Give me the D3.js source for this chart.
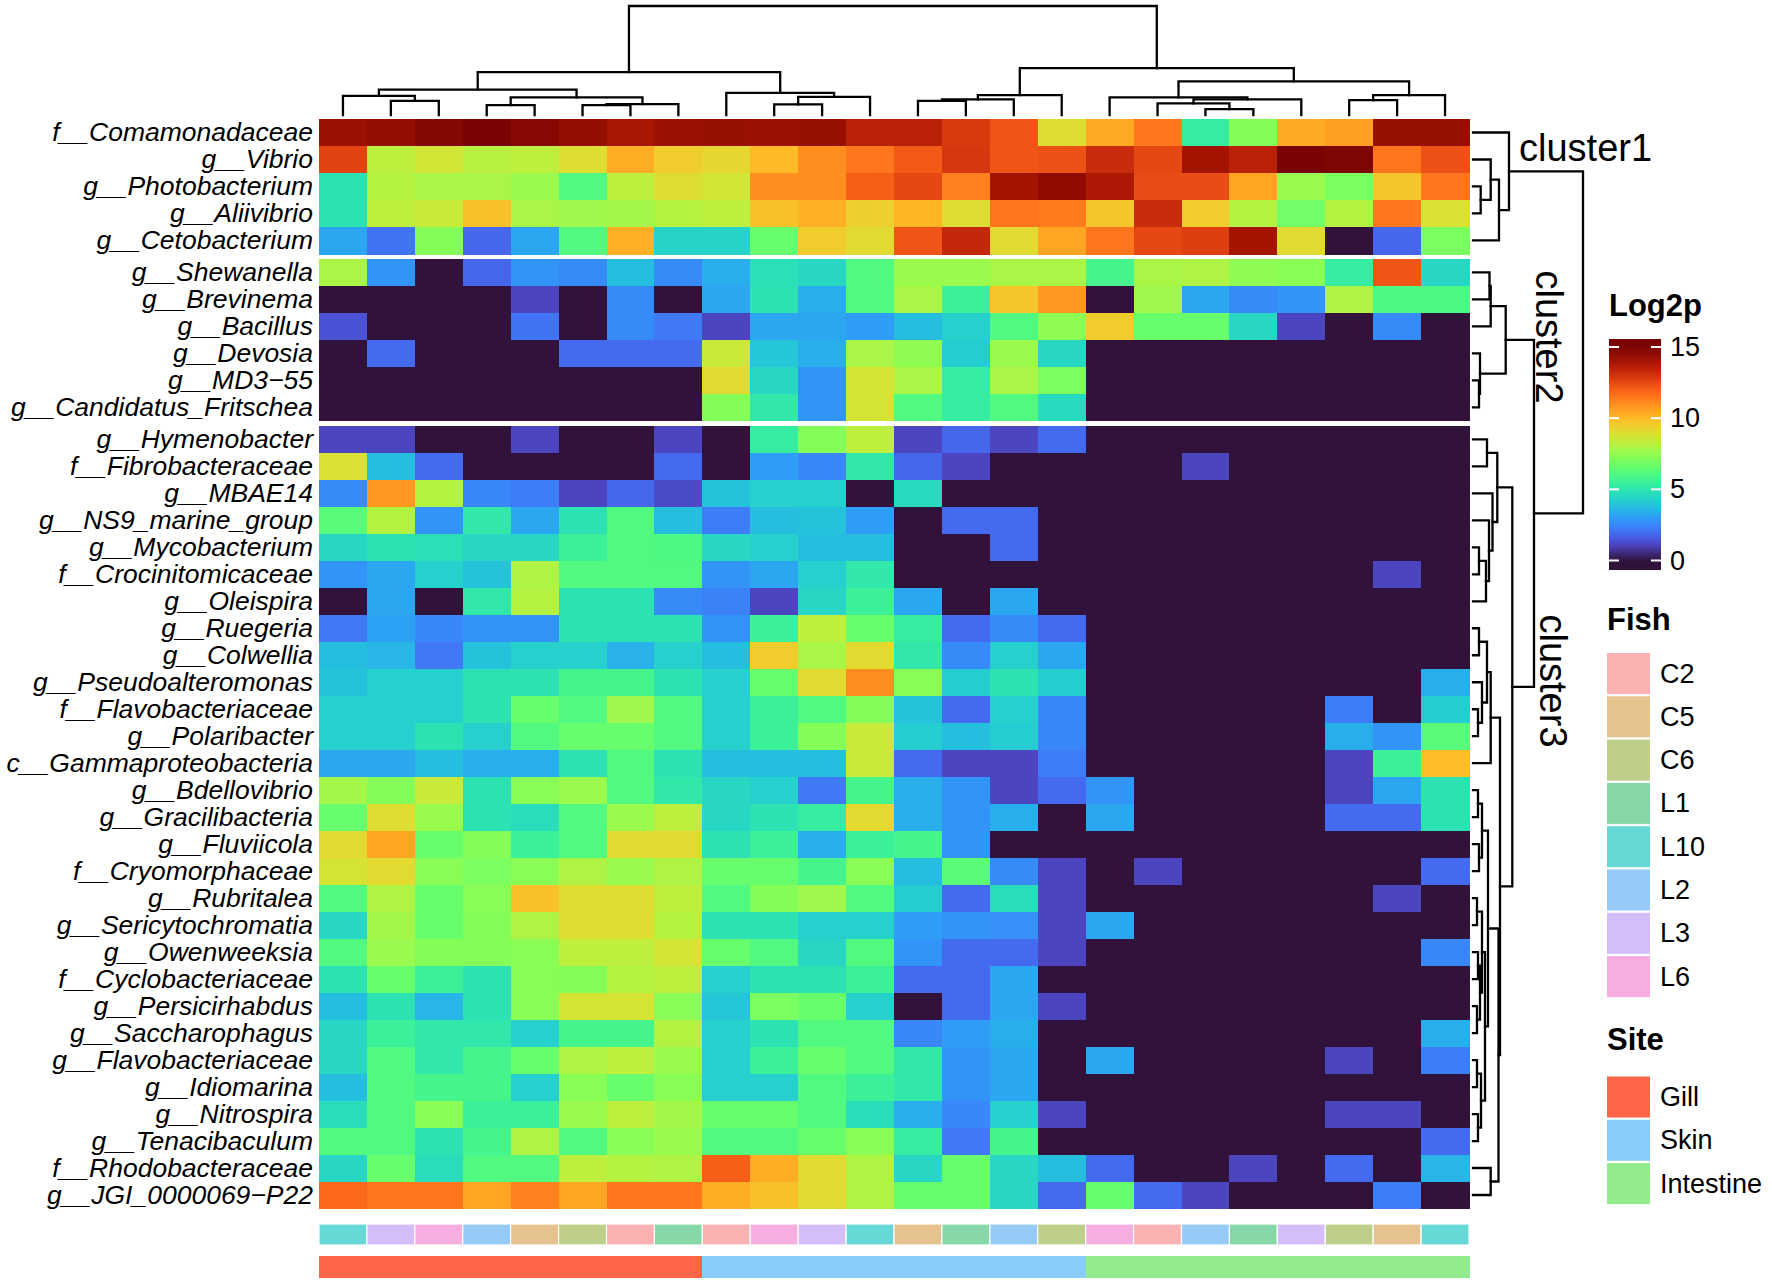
<!DOCTYPE html>
<html>
<head>
<meta charset="utf-8">
<script src="https://cdn.jsdelivr.net/npm/d3@7"></script>
<style>
  body { margin: 0; background: #fff; }
  svg { display: block; }
  text { font-family: "Liberation Sans", Arial, Helvetica, sans-serif; fill: #000; }
</style>
</head>
<body>
<script>
// ---- data ----
const rowNames = [
  "f__Comamonadaceae", "g__Vibrio", "g__Photobacterium", "g__Aliivibrio", "g__Cetobacterium",
  "g__Shewanella", "g__Brevinema", "g__Bacillus", "g__Devosia", "g__MD3\u221255", "g__Candidatus_Fritschea",
  "g__Hymenobacter", "f__Fibrobacteraceae", "g__MBAE14", "g__NS9_marine_group", "g__Mycobacterium",
  "f__Crocinitomicaceae", "g__Oleispira", "g__Ruegeria", "g__Colwellia", "g__Pseudoalteromonas",
  "f__Flavobacteriaceae", "g__Polaribacter", "c__Gammaproteobacteria", "g__Bdellovibrio",
  "g__Gracilibacteria", "g__Fluviicola", "f__Cryomorphaceae", "g__Rubritalea", "g__Sericytochromatia",
  "g__Owenweeksia", "f__Cyclobacteriaceae", "g__Persicirhabdus", "g__Saccharophagus",
  "g__Flavobacteriaceae", "g__Idiomarina", "g__Nitrospira", "g__Tenacibaculum",
  "f__Rhodobacteraceae", "g__JGI_0000069\u2212P22"
];
const rowSplit = [5, 6, 29];   // cluster1, cluster2, cluster3
const clusterNames = ["cluster1", "cluster2", "cluster3"];

const colFish = ["L10","L3","L6","L2","C5","C6","C2","L1","C2","L6","L3","L10",
                 "C5","L1","L2","C6","L6","C2","L2","L1","L3","C6","C5","L10"];
const colSite = ["Gill","Gill","Gill","Gill","Gill","Gill","Gill","Gill",
                 "Skin","Skin","Skin","Skin","Skin","Skin","Skin","Skin",
                 "Intestine","Intestine","Intestine","Intestine","Intestine","Intestine","Intestine","Intestine"];

const fishLevels = ["C2","C5","C6","L1","L10","L2","L3","L6"];
const fishColors = ["#f9b1b1","#e6c28e","#bdcf88","#86d8a8","#66d8d5","#95cbf6","#d4bdf8","#f6aee1"];
const siteLevels = ["Gill","Skin","Intestine"];
const siteColors = ["#fe6446","#88cdf9","#92ec8e"];

const legendBreaks = [0, 5, 10, 15];

// log2p values, one row per taxon, 24 samples (column order of the heatmap)
const log2p = [
  [14.2,14.4,14.8,15,14.7,14.4,13.9,14.2,14.3,14.2,14.3,13.5,13.5,12.8,12.2,9,10.4,11.5,5.3,7.2,10.4,10.6,14.3,14.3],
  [12.6,8.3,8.7,8.2,8.3,9.0,10.3,9.5,9.2,10,11,11.5,12.1,12.9,12.2,12.3,13.2,12.5,14,13.5,15,14.9,11.5,12.3],
  [4.9,8.1,7.9,7.9,7.6,6.1,8.3,9,8.7,11,11,12,12.5,11.3,14,14.5,13.8,12.4,12.4,10.5,7.6,7,9.7,11.5],
  [4.9,8.3,8.5,9.8,7.9,7.7,7.8,8.1,8.3,9.8,10.2,9.4,10.1,9,11.5,11.4,9.7,13.2,9.5,8.1,6.8,8.1,11.5,8.9],
  [3.2,2.1,7.2,1.8,3.2,6.1,10.2,4.4,4.4,6.6,9.5,9.1,12.2,13.3,9.1,10.5,11.5,12.5,12.7,14,9.1,0,1.8,7],
  [7.9,2.8,0,1.8,2.8,2.6,3.8,2.6,3.4,4.8,4.5,6.1,7.6,7.6,7.9,7.9,5.8,7.9,8,7.4,7.3,5.3,12.2,4.5],
  [0,0,0,0,1.1,0,2.6,0,3.2,4.9,3.4,6.1,7.9,5.5,9.7,10.8,0,7.7,3.2,2.6,2.8,8,6,6],
  [1.4,0,0,0,2.1,0,2.6,2.2,1.1,3.2,3.2,3,3.8,4.3,6.1,7.4,9.5,6.6,6.6,4.5,1.1,0,2.6,0],
  [0,1.9,0,0,0,1.9,1.9,1.9,8.5,4,3.4,7.9,7.4,4.2,7.6,4.5,0,0,0,0,0,0,0,0],
  [0,0,0,0,0,0,0,0,9.1,4.5,2.8,8.8,7.9,5.3,7.9,7,0,0,0,0,0,0,0,0],
  [0,0,0,0,0,0,0,0,7.2,5.1,2.8,8.8,6.1,5.3,6.1,4.6,0,0,0,0,0,0,0,0],
  [1.1,1.1,0,0,1.1,0,0,1.1,0,5.3,7.2,8.3,1.1,1.8,1.1,1.9,0,0,0,0,0,0,0,0],
  [8.9,3.8,1.9,0,0,0,0,1.9,0,3,2.5,5.1,1.8,1.1,0,0,0,0,1.1,0,0,0,0,0],
  [2.6,10.8,8.1,2.5,2.3,1.1,1.8,1.2,3.9,4.3,4.3,0,4.6,0,0,0,0,0,0,0,0,0,0,0],
  [6.3,8.1,2.8,5.1,3.2,4.9,6.1,3.8,2.3,3.8,3.9,3,0,1.9,1.9,0,0,0,0,0,0,0,0,0],
  [4.5,4.9,4.8,4.5,4.5,5.5,6.1,6,4.5,4.3,3.8,3.8,0,0,1.9,0,0,0,0,0,0,0,0,0],
  [2.8,3.2,4.3,3.9,8,6.1,6.1,6.1,2.8,3.2,4.3,5.1,0,0,0,0,0,0,0,0,0,0,1.1,0],
  [0,3.2,0,5.1,8.1,4.9,4.9,2.6,2.4,1.1,4.5,5.5,3.2,0,3.2,0,0,0,0,0,0,0,0,0],
  [2.2,3.1,2.5,2.8,2.8,4.9,4.9,4.9,2.8,5.5,8.3,6.6,5.3,1.9,2.6,1.9,0,0,0,0,0,0,0,0],
  [3.8,3.6,2.2,3.9,4.3,4.3,3.5,4.3,3.8,9.5,7.9,9.1,5.1,2.6,4.3,3.2,0,0,0,0,0,0,0,0],
  [3.9,4.3,4.3,4.9,4.9,5.8,5.8,4.9,4.3,6.6,9.1,11,7.3,4.2,4.9,4.2,0,0,0,0,0,0,0,3.4],
  [4.3,4.3,4.3,4.9,6.6,6.1,7.7,6.1,4.3,5.5,6.1,7.2,3.9,1.9,4.3,2.5,0,0,0,0,0,2.3,0,4.2],
  [4.3,4.3,4.9,4.3,6.1,6.6,6.6,6.1,4.3,5.5,7.2,8.5,4.2,3.8,4.2,2.5,0,0,0,0,0,3.4,2.8,6.3],
  [3.2,3.2,3.8,3.4,3.4,4.9,6.1,4.9,3.8,3.8,3.8,8.5,1.9,1.1,1.1,2.3,0,0,0,0,0,1.1,5.5,9.9],
  [7.8,7.2,8.5,4.9,7.3,7.6,6.1,5.1,4.5,4.3,2.2,5.8,3.4,2.8,1.1,1.9,2.8,0,0,0,0,1.1,3.2,4.9],
  [6.6,9,7.6,4.9,4.7,6.1,7.6,8.3,4.5,4.9,5.3,9.1,3.4,2.8,3.4,0,3.2,0,0,0,0,1.9,1.9,4.9],
  [9.1,10.5,6.6,7.2,5.5,6.1,9.1,9.1,4.9,5.5,3.4,5.5,5.8,2.8,0,0,0,0,0,0,0,0,0,0],
  [8.8,9.1,7.3,7,7.3,8,7.6,8,6.6,6.6,5.8,7.3,3.8,6.3,2.6,1.1,0,1.1,0,0,0,0,0,1.9],
  [6.1,8,6.6,7.3,9.8,9,9,8.3,6.1,7.2,7.7,6.1,4.2,1.9,4.7,1.1,0,0,0,0,0,0,1.1,0],
  [4.5,7.8,6.6,7.2,8,9,9,8.1,4.9,4.9,4.3,4.3,3,2.8,2.7,1.1,3.2,0,0,0,0,0,0,0],
  [6.1,7.6,7.2,7.2,7.3,8.3,8.3,8.8,6.6,6.1,4.5,6.1,2.8,1.9,1.9,1.1,0,0,0,0,0,0,0,2.5],
  [4.9,6.6,5.5,4.9,7.3,7.2,8.1,8.3,4.3,4.9,4.9,5.5,1.9,1.9,3.2,0,0,0,0,0,0,0,0,0],
  [3.8,4.9,3.6,4.9,7.3,8.8,8.8,7.3,4,7,6.6,4.3,0,1.9,3.2,1.1,0,0,0,0,0,0,0,0],
  [4.5,5.5,5.1,5.1,4.3,5.8,5.8,8.1,4.3,4.9,6.1,6.1,2.5,3,3.4,0,0,0,0,0,0,0,0,3.4],
  [4.5,6.1,5.1,5.8,6.6,8,8.3,7.6,4.3,5.5,6.6,6.1,5.1,2.8,3.2,0,3.2,0,0,0,0,1.1,0,2.3],
  [3.8,6.1,5.8,5.8,4.3,7.3,6.6,7.3,4.3,4.3,6.1,5.5,5.1,2.8,3.2,0,0,0,0,0,0,0,0,0],
  [4.7,6.1,7.3,5.5,5.5,7.6,8.3,7.8,6.6,6.6,6.1,4.7,3.4,2.5,4.3,1.1,0,0,0,0,0,1.1,1.1,0],
  [6.1,6.1,4.9,5.8,8,6.1,7.3,7.6,6.1,6.1,6.6,7.3,5.3,2.2,5.8,0,0,0,0,0,0,0,0,1.9],
  [4.5,6.6,4.7,6.1,6.1,8.3,8.1,8,12,10.3,9.1,8,4.5,6.6,4.5,3.8,1.9,0,0,1.1,0,1.9,0,3.6],
  [11.8,11.5,11.5,10.5,11.3,10.5,11.5,11.5,10.3,9.8,9.1,8,6.6,6.6,4.5,1.9,6.6,1.9,1.1,0,0,0,2.3,0]
];

// hclust-style merges: negative = leaf (1-based), positive = earlier merge (1-based), then height
const colMerge = [
  [-2,-3,14.3], [-1,1,19.3], [-4,-5,10], [-6,-7,10], [4,-8,11], [3,5,17.7], [2,6,25.7],
  [-10,-11,10.7], [8,-12,18.3], [-9,9,22.3], [7,10,43.3],
  [-13,-14,14.3], [12,-15,15.7], [13,-16,20], [-19,-20,6], [-18,15,11.7], [16,-21,15.7],
  [-17,17,17.7], [-22,-23,15], [19,-24,20], [18,20,34], [14,21,47.3], [11,22,110]
];
const rowMerge = [
  [-3,-4,7.7], [-2,1,17.7], [2,-5,26], [-1,3,36],
  [-6,-7,16.5], [5,-8,17.7], [-10,-11,6], [-9,7,7], [6,8,32.7],
  [-12,-13,14], [-16,-17,6], [11,-18,13], [-15,12,16], [-14,13,19.5], [10,14,24.3],
  [-19,-20,6], [-22,-23,5], [-21,17,9], [16,18,14], [19,-24,17.7],
  [-25,-26,5], [-27,-28,6], [21,22,9], [-29,-30,4], [-31,-32,5], [-33,-34,4], [25,26,7],
  [24,27,9], [-35,-36,4], [-37,-38,5], [29,30,8], [28,31,12], [23,32,15],
  [-39,-40,17.7], [33,34,25.5], [20,35,27], [15,36,39.3], [9,37,61], [4,38,110]
];

// ---- layout ----
const W = 1772, H = 1281;
const heat = { left: 319, right: 1469, top: 119, bottom: 1208.5 };
const sliceGap = 5;
const rowH = (heat.bottom - heat.top - sliceGap * (rowSplit.length - 1)) / rowNames.length;

const svg = d3.select("body").append("svg").attr("width", W).attr("height", H);

const x = d3.scaleBand().domain(d3.range(colFish.length)).range([heat.left, heat.right]);

// one band scale per row slice
const slices = [];
let start = 0;
rowSplit.forEach((n, k) => {
  const y0 = heat.top + start * rowH + k * sliceGap;
  slices.push({ start, n, scale: d3.scaleBand().domain(d3.range(start, start + n)).range([y0, y0 + n * rowH]) });
  start += n;
});
const sliceOf = r => slices.find(s => r >= s.start && r < s.start + s.n);
const yRow = r => sliceOf(r).scale(r);

// turbo colour ramp, with the original turbo end colours
const tScale = d3.scaleLinear().domain([0, 15]).range([0, 1]).clamp(true);
const lowEnd = d3.interpolateRgb("#30123b", d3.interpolateTurbo(1 / 15));
const highEnd = d3.interpolateRgb(d3.interpolateTurbo(14 / 15), "#7a0403");
function heatColor(v) {
  const t = tScale(v);
  if (t < 1 / 15) return lowEnd(t * 15);
  if (t > 14 / 15) return highEnd((t - 14 / 15) * 15);
  return d3.interpolateTurbo(t);
}

// ---- heatmap cells ----
const cells = svg.append("g").attr("shape-rendering", "crispEdges");
log2p.forEach((row, r) => {
  cells.selectAll(null).data(row).enter().append("rect")
    .attr("x", (d, c) => x(c))
    .attr("y", yRow(r))
    .attr("width", x.bandwidth() + 0.6)
    .attr("height", rowH + 0.6)
    .attr("fill", d => heatColor(d));
});

// ---- row labels ----
svg.append("g").selectAll("text").data(rowNames).enter().append("text")
  .attr("x", heat.left - 6)
  .attr("y", (d, r) => yRow(r) + rowH / 2)
  .attr("text-anchor", "end")
  .attr("dominant-baseline", "central")
  .attr("font-style", "italic")
  .attr("font-size", 26.5)
  .text(d => d);

// ---- dendrograms ----
function drawDendro(merge, leafPos, hPos, vertical) {
  const nodes = [];
  const get = i => (i < 0 ? { p: leafPos(-i - 1), h: 0 } : nodes[i - 1]);
  const paths = [];
  merge.forEach(([a, b, h]) => {
    const A = get(a), B = get(b);
    nodes.push({ p: (A.p + B.p) / 2, h });
    if (vertical) {
      paths.push(`M${A.p},${hPos(A.h)}V${hPos(h)}H${B.p}V${hPos(B.h)}`);
    } else {
      paths.push(`M${hPos(A.h)},${A.p}H${hPos(h)}V${B.p}H${hPos(B.h)}`);
    }
  });
  svg.append("g").selectAll("path").data(paths).enter().append("path")
    .attr("d", d => d)
    .attr("fill", "none")
    .attr("stroke", "#000")
    .attr("stroke-width", 2.3)
    .attr("stroke-linecap", "square");
}

const colH = d3.scaleLinear().domain([0, 110]).range([115, 6]);
drawDendro(colMerge, c => x(c) + x.bandwidth() / 2, colH, true);

const rowHs = d3.scaleLinear().domain([0, 110]).range([1473, 1583]);
drawDendro(rowMerge, r => yRow(r) + rowH / 2, rowHs, false);

// cluster labels
svg.append("text").attr("x", 1519).attr("y", 161).attr("font-size", 38).text(clusterNames[0]);
svg.append("text").attr("transform", "translate(1549,337) rotate(90)")
  .attr("text-anchor", "middle").attr("dominant-baseline", "central").attr("font-size", 38).text(clusterNames[1]);
svg.append("text").attr("transform", "translate(1553,681) rotate(90)")
  .attr("text-anchor", "middle").attr("dominant-baseline", "central").attr("font-size", 38).text(clusterNames[2]);

// ---- column annotations ----
const fishScale = d3.scaleOrdinal().domain(fishLevels).range(fishColors);
const siteScale = d3.scaleOrdinal().domain(siteLevels).range(siteColors);

svg.append("g").selectAll("rect").data(colFish).enter().append("rect")
  .attr("x", (d, c) => x(c))
  .attr("y", 1224)
  .attr("width", x.bandwidth())
  .attr("height", 21)
  .attr("fill", d => fishScale(d))
  .attr("stroke", "#fff")
  .attr("stroke-width", 1.2);

svg.append("g").attr("shape-rendering", "crispEdges").selectAll("rect").data(colSite).enter().append("rect")
  .attr("x", (d, c) => x(c))
  .attr("y", 1256)
  .attr("width", x.bandwidth() + 0.6)
  .attr("height", 22)
  .attr("fill", d => siteScale(d));

// ---- colour legend ----
const lg = { x: 1609, w: 52, top: 339, bottom: 570 };
const lv = d3.scaleLinear().domain([0, 15]).range([560.5, 347]);

svg.append("text").attr("x", 1609).attr("y", 316).attr("font-size", 31).attr("font-weight", "bold").text("Log2p");

const grad = svg.append("defs").append("linearGradient")
  .attr("id", "log2pGrad").attr("gradientUnits", "userSpaceOnUse")
  .attr("x1", 0).attr("x2", 0).attr("y1", lg.bottom).attr("y2", lg.top);
d3.range(0, 1.0001, 1 / 60).forEach(o => {
  const v = lv.invert(lg.bottom + (lg.top - lg.bottom) * o);
  grad.append("stop").attr("offset", o).attr("stop-color", heatColor(v));
});
svg.append("rect").attr("x", lg.x).attr("y", lg.top).attr("width", lg.w).attr("height", lg.bottom - lg.top)
  .attr("fill", "url(#log2pGrad)");

const lt = svg.append("g");
lt.selectAll("line.l").data(legendBreaks).enter().append("line")
  .attr("x1", lg.x).attr("x2", lg.x + 10).attr("y1", d => lv(d)).attr("y2", d => lv(d))
  .attr("stroke", "#fff").attr("stroke-width", 2);
lt.selectAll("line.r").data(legendBreaks).enter().append("line")
  .attr("x1", lg.x + lg.w - 10).attr("x2", lg.x + lg.w).attr("y1", d => lv(d)).attr("y2", d => lv(d))
  .attr("stroke", "#fff").attr("stroke-width", 2);
lt.selectAll("text").data(legendBreaks).enter().append("text")
  .attr("x", 1670).attr("y", d => lv(d)).attr("dominant-baseline", "central").attr("font-size", 27)
  .text(d => d);

// ---- discrete legends ----
function discreteLegend(title, levels, colors, titleY, y0) {
  const step = 43.3;
  svg.append("text").attr("x", 1607).attr("y", titleY).attr("font-size", 31).attr("font-weight", "bold").text(title);
  const g = svg.append("g");
  g.selectAll("rect").data(levels).enter().append("rect")
    .attr("x", 1607).attr("y", (d, i) => y0 + i * step)
    .attr("width", 43).attr("height", 41)
    .attr("fill", (d, i) => colors[i]);
  g.selectAll("text").data(levels).enter().append("text")
    .attr("x", 1660).attr("y", (d, i) => y0 + i * step + 20.5)
    .attr("dominant-baseline", "central").attr("font-size", 27)
    .text(d => d);
}
discreteLegend("Fish", fishLevels, fishColors, 630, 653);
discreteLegend("Site", siteLevels, siteColors, 1050, 1076.5);
</script>
</body>
</html>
